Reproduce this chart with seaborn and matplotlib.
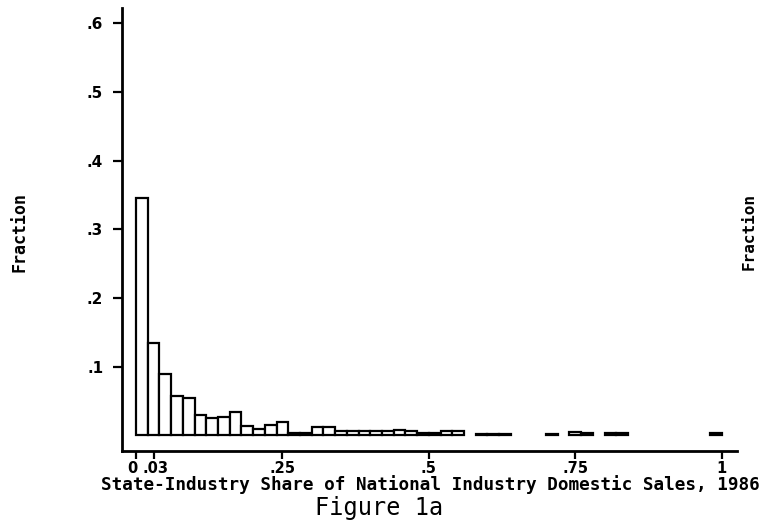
import numpy as np
import pandas as pd
import matplotlib
matplotlib.use("Agg")
import matplotlib.pyplot as plt
import matplotlib.transforms as mtransforms
import seaborn as sns

# bins of width .02 from 0 to 1, fraction of state-industry cells in each bin
bin_left = [i / 50 for i in range(50)]
fractions = [0.346, 0.135, 0.089, 0.0575, 0.054, 0.030, 0.025, 0.027, 0.034, 0.014,
             0.009, 0.015, 0.020, 0.004, 0.003, 0.013, 0.013, 0.007, 0.006, 0.007,
             0.0065, 0.007, 0.008, 0.007, 0.003, 0.003, 0.007, 0.006, 0.0, 0.002,
             0.002, 0.002, 0.0, 0.0, 0.0, 0.002, 0.0, 0.005, 0.003, 0.0,
             0.003, 0.003, 0.0, 0.0, 0.0, 0.0, 0.0, 0.0, 0.0, 0.003]

xtick_vals = [0, 0.03, 0.25, 0.5, 0.75, 1]
xtick_labels = ["0", ".03", ".25", ".5", ".75", "1"]
ytick_vals = [0.1, 0.2, 0.3, 0.4, 0.5, 0.6]
ytick_labels = [".1", ".2", ".3", ".4", ".5", ".6"]

df = pd.DataFrame({"share": np.array(bin_left) + 0.01, "fraction": fractions})

sns.set_style("ticks")
plt.rcParams["font.family"] = ["DejaVu Sans Mono", "DejaVu Sans"]
plt.rcParams["text.color"] = "black"
plt.rcParams["xtick.color"] = "black"
plt.rcParams["ytick.color"] = "black"
plt.rcParams["axes.edgecolor"] = "black"

fig = plt.figure(figsize=(7.59, 5.26), dpi=100)
ax = fig.add_axes([0.1607, 0.1426, 0.971 - 0.1607, 0.9848 - 0.1426])

sns.histplot(data=df, x="share", weights="fraction", binwidth=0.02, binrange=(0, 1),
             color="white", edgecolor="black", linewidth=1.6, alpha=1, ax=ax)

# empty bins show nothing in the original
for p in ax.patches:
    if p.get_height() <= 0:
        p.set_visible(False)

ax.set_xlim(-0.024, 1.026)
ax.set_ylim(-0.0226, 0.622)
ax.set_xticks(xtick_vals)
ax.set_xticklabels(xtick_labels, family="DejaVu Sans", fontweight="bold", fontsize=10.5)
ax.set_yticks(ytick_vals)
ax.set_yticklabels(ytick_labels, family="DejaVu Sans", fontweight="bold", fontsize=11)
ax.tick_params(axis="x", length=5.5, width=1.6, pad=1.5)
ax.tick_params(axis="y", length=6.5, width=1.6, pad=7)
ax.set_xlabel("")
ax.set_ylabel("")

# the "0" and ".03" labels sit close together; nudge them apart a little
xl = ax.get_xticklabels()
xl[0].set_transform(xl[0].get_transform() + mtransforms.ScaledTranslation(-3.5 / 100, 0, fig.dpi_scale_trans))
xl[1].set_transform(xl[1].get_transform() + mtransforms.ScaledTranslation(1.5 / 100, 0, fig.dpi_scale_trans))

sns.despine(ax=ax)
for s in ["left", "bottom"]:
    ax.spines[s].set_linewidth(2)

fig.text(430 / 759, 1 - 485 / 526, "State-Industry Share of National Industry Domestic Sales, 1986",
         ha="center", va="center", fontsize=12.7, fontweight="bold")
fig.text(379 / 759, 1 - 508 / 526, "Figure 1a", ha="center", va="center", fontsize=17)
fig.text(19 / 759, 1 - 232 / 526, "Fraction", rotation=90, ha="center", va="center",
         fontsize=12, fontweight="bold")
fig.text(749 / 759, 1 - 232 / 526, "Fraction", rotation=90, ha="center", va="center",
         fontsize=11.5, fontweight="bold")

fig.savefig("out.png", dpi=100)
